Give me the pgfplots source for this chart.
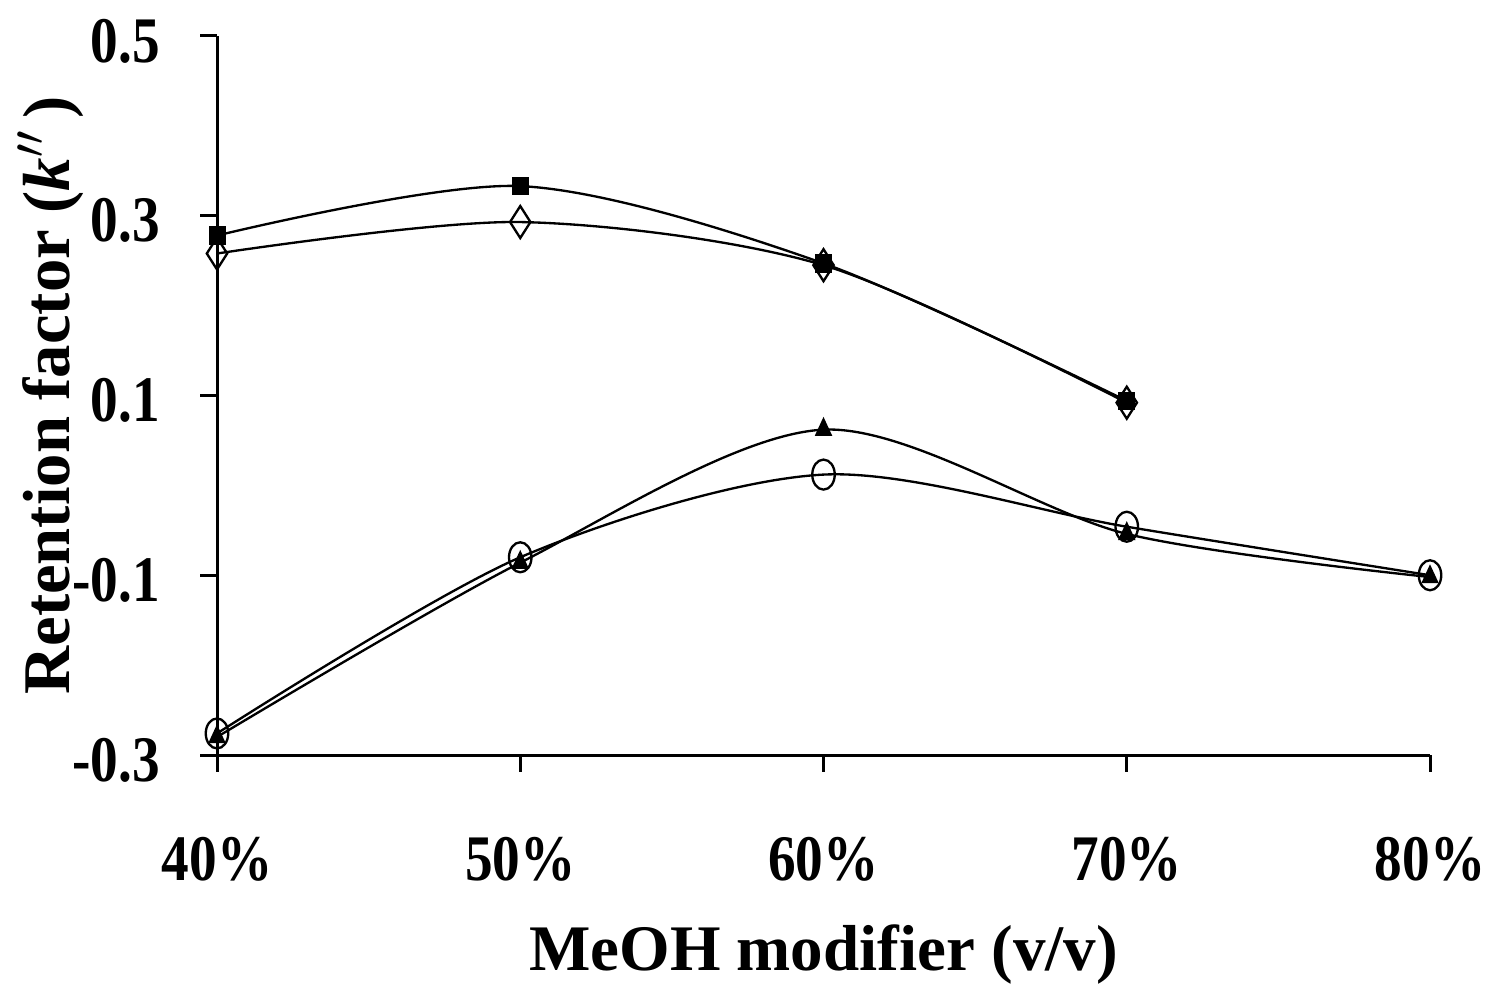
\documentclass[border=0pt]{standalone}
\usepackage{pgfplots}
\pgfplotsset{compat=1.18}
\usepackage{fontspec}
\setmainfont{Liberation Serif}
\newfontfamily\tickfont{Liberation Serif}[FakeStretch=0.85]
\begin{document}
\begin{tikzpicture}
\begin{axis}[
  scale only axis,
  width=363.9pt, height=215.7pt,
  xmin=0, xmax=4, ymin=-0.3, ymax=0.5,
  axis x line=bottom, axis y line=left,
  axis line style={-, line width=0.9pt},
  tick align=outside,
  major tick length=5pt,
  tick style={black, line width=0.9pt},
  xtick={0,1,2,3,4},
  xticklabels={40\%,50\%,60\%,70\%,80\%},
  ytick={-0.3,-0.1,0.1,0.3,0.5},
  yticklabels={-0.3,-0.1,0.1,0.3,0.5},
  tick label style={font=\fontsize{19.5}{21}\tickfont\bfseries},
  xticklabel style={yshift=-16pt},
  yticklabel style={xshift=-8.6pt, yshift=-1.5pt},
  xlabel={MeOH modifier (v/v)},
  ylabel={Retention factor (\textit{k}$^{\prime\prime}$\,)},
  xlabel style={font=\fontsize{19.5}{21}\selectfont\bfseries, at={(axis description cs:0.5,-0.278)}, anchor=center},
  ylabel style={font=\fontsize{20}{22}\selectfont\bfseries, at={(axis description cs:-0.137,0.5)}, anchor=center},
  clip=false,
]
\path (rel axis cs:0,0) coordinate (sw) (rel axis cs:1,1) coordinate (ne);
\addplot[black, line width=0.7pt, smooth, tension=0.5, mark=square*, mark size=2.2pt, mark options={fill=black, yscale=1.1}]
coordinates {(0,0.278) (1,0.333) (2,0.247) (3,0.094)};
\addplot[black, line width=0.7pt, smooth, tension=0.5, mark=diamond, mark size=4.8pt, mark options={line width=0.7pt, xscale=0.85}]
coordinates {(0,0.258) (1,0.293) (2,0.245) (3,0.092)};
\addplot[black, line width=0.7pt, smooth, tension=0.5, mark=triangle*, mark size=3pt, mark options={fill=black, xscale=0.8}]
coordinates {(0,-0.28) (1,-0.086) (2,0.062) (3,-0.054) (4,-0.102)};
\addplot[black, line width=0.7pt, smooth, tension=0.5, mark=o, mark size=4.5pt, mark options={line width=0.7pt, xscale=0.75}]
coordinates {(0,-0.276) (1,-0.08) (2,0.012) (3,-0.046) (4,-0.1)};
\end{axis}
\pgfresetboundingbox
\path ([xshift=-65.1pt,yshift=-70.5pt]sw) rectangle ([xshift=18.9pt,yshift=10.8pt]ne);
\end{tikzpicture}
\end{document}
